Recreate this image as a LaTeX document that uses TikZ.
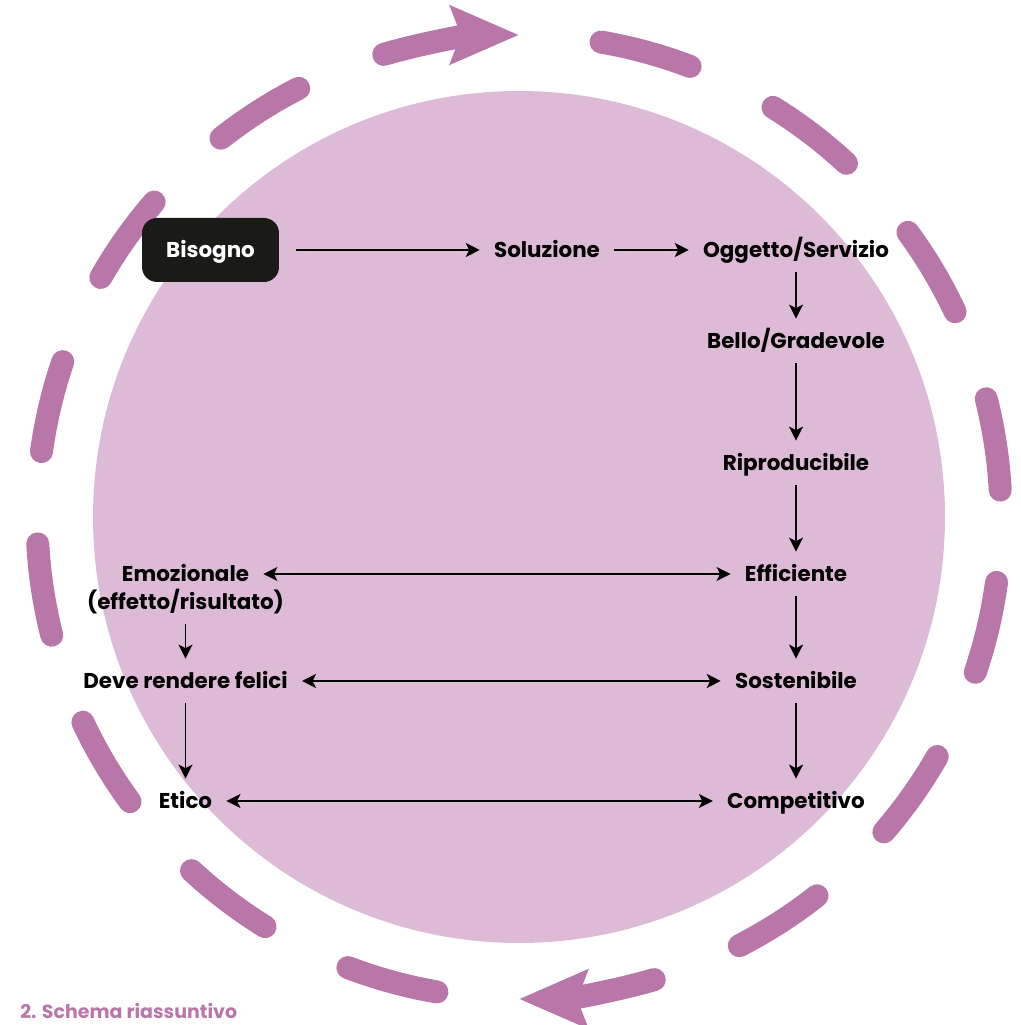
\documentclass[tikz,border=0pt]{standalone}
\usepackage{fontspec}
\setmainfont{Poppins}
\usetikzlibrary{arrows.meta}
\usetikzlibrary{positioning}

\definecolor{ringpurple}{HTML}{B877A8}
\definecolor{discpink}{HTML}{DDBBD6}
\definecolor{boxblack}{HTML}{1A1A16}

\tikzset{
  steplabel/.style={font=\fontsize{12.2}{16}\selectfont\bfseries, text height=0.3cm, text depth=0cm, inner xsep=0.28cm, inner ysep=0.29cm},
  needbox/.style={steplabel, fill=boxblack, text=white, rounded corners=0.3cm, minimum width=2.74cm, minimum height=1.28cm, inner ysep=0cm},
  link/.style={draw=black, line width=0.9pt, -{Stealth[length=0.28cm,width=0.28cm,inset=0.07cm]}},
  twolink/.style={draw=black, line width=0.9pt, {Stealth[length=0.28cm,width=0.28cm,inset=0.07cm]}-{Stealth[length=0.28cm,width=0.28cm,inset=0.07cm]}},
  ringdash/.style={draw=ringpurple, line width=0.46cm, line cap=round}
}

\begin{document}
\begin{tikzpicture}[x=0.02cm,y=0.02cm]
\useasboundingbox (0,0) rectangle (1021,1025);
\fill[discpink] (519,508) circle[radius=426];

% ring of dashes, turning clockwise
\foreach \r in {0,180}{
  \draw[ringdash,-{Stealth[length=1.36cm,width=1.14cm,inset=0.2cm]}] (519,508) ++(106.3-\r:482) arc[start angle=106.3-\r, end angle=90-\r, radius=482];
  \foreach \k in {0,...,6}
    \draw[ringdash] (519,508) ++(80.2-\r-22*\k:482) arc[start angle=80.2-\r-22*\k, end angle=69.2-\r-22*\k, radius=482];
}

\node[needbox] (need) at (210.5,775) {Bisogno};
\node[steplabel] (sol) at (547,775) {Soluzione};
\node[steplabel] (obj) at (796,775) {Oggetto/Servizio};
\node[steplabel] (bello) at (796,684) {Bello/Gradevole};
\node[steplabel] (repro) at (796,562) {Riproducibile};
\node[steplabel] (eff) at (796,451) {Efficiente};
\node[steplabel] (sust) at (796,344) {Sostenibile};
\node[steplabel] (comp) at (796,224) {Competitivo};

\node[steplabel] (emo) at (185.5,451) {Emozionale};
\node[steplabel] (emosub) at (185.5,423) {(effetto/risultato)};
\node[steplabel] (happy) at (185.5,344) {Deve rendere felici};
\node[steplabel] (ethic) at (185.5,224) {Etico};

\draw[link, shorten <=0.34cm] (need.east) -- (sol.west);
\draw[link] (sol) -- (obj);
\draw[link] (obj) -- (bello);
\draw[link] (bello) -- (repro);
\draw[link] (repro) -- (eff);
\draw[link] (eff) -- (sust);
\draw[link] (sust) -- (comp);
\draw[link] (emosub) -- (happy);
\draw[link] (happy) -- (ethic);

\draw[twolink] (emo) -- (eff);
\draw[twolink] (happy) -- (sust);
\draw[twolink] (ethic) -- (comp);

\node[text=ringpurple, font=\fontsize{10.8}{13}\selectfont\bfseries, text height=0.28cm, text depth=0cm, anchor=west, inner sep=0cm] (title) at (20,13) {2. Schema riassuntivo};
\end{tikzpicture}
\end{document}
